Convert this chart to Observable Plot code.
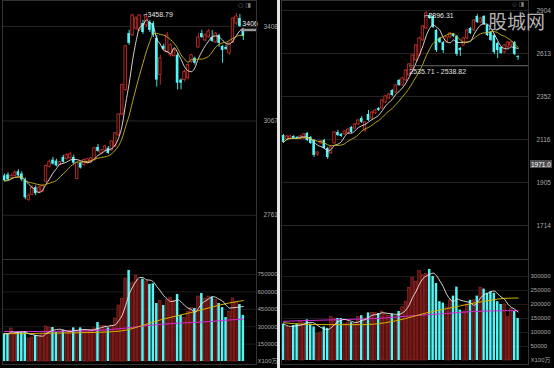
<!DOCTYPE html>
<html><head><meta charset="utf-8">
<script src="https://cdn.jsdelivr.net/npm/d3@7"></script>
<script src="https://cdn.jsdelivr.net/npm/@observablehq/plot@0.6"></script>
<style>
body{margin:0;background:#000;}
#wrap{position:relative;width:554px;height:368px;background:#000;overflow:hidden;font-family:"Liberation Sans","DejaVu Sans","Noto Sans CJK SC",sans-serif;}
.p{position:absolute;}
#divider{position:absolute;left:277px;top:0;width:3px;height:368px;background:#e4e4e4;}
#wm{position:absolute;left:488px;top:11px;font:19px/19px "Noto Sans CJK SC";color:#b4b4b4;}
.icons{position:absolute;font:6px/6px "DejaVu Sans";color:#8a8a8a;}
#tag{position:absolute;left:530px;top:160px;background:#4e4e4e;color:#fff;font:6.5px/7px "Liberation Sans";padding:0.5px 1px;}
</style></head><body>
<div id="wrap">
  <div class="p" id="lp" style="left:0;top:0"></div>
  <div class="p" id="lv" style="left:0;top:259px"></div>
  <div class="p" id="rp" style="left:281px;top:0"></div>
  <div class="p" id="rv" style="left:281px;top:259px"></div>
  <div id="divider"></div>
  <div class="icons" style="left:238px;top:2px">○ ◨</div>
  <div class="icons" style="left:512px;top:1px">◇ ◨</div>
  <div id="tag">1971.0</div>
  <div id="wm">股城网</div>
</div>
<script>
// ---------- LEFT chart data ----------
const leftOpen = [2885,2888,2878,2885,2898,2891,2872,2809,2825,2847, 2834,2834,2866,2914,2936,2933,2920,2945,2939,2942, 2945,2875,2926,2920,2926,2929,2936,2978,2958,2968, 2975,2968,2981,3018,3089,3175,3381,3374,3400,3393, 3419,3412,3423,3419,3363,3228,3333,3311,3300,3297, 3300,3210,3210,3217,3275,3289,3329,3381,3355,3366, 3366,3348,3374,3333,3329,3307,3348,3419,3438,3389];
const leftHigh = [2891,2895,2891,2902,2905,2898,2878,2828,2853,2853, 2853,2856,2920,2936,2945,2939,2933,2952,2958,2962, 2952,2929,2929,2939,2942,2945,2978,2988,2971,2985, 2981,3001,3028,3092,3196,3337,3393,3455,3446,3454, 3431,3458.79,3431,3427,3374,3300,3341,3385,3344,3326, 3307,3214,3246,3271,3304,3293,3381,3393,3381,3396, 3393,3385,3378,3337,3337,3348,3442,3458,3454,3396];
const leftLow = [2866,2866,2875,2882,2882,2866,2809,2803,2822,2822, 2828,2831,2862,2910,2920,2914,2917,2926,2936,2939, 2920,2872,2907,2917,2923,2926,2933,2962,2955,2965, 2955,2965,2978,3015,3085,3170,3337,3370,3393,3389, 3378,3404,3385,3366,3185,3192,3318,3307,3293,3293, 3175,3175,3203,3210,3271,3264,3326,3363,3352,3363, 3348,3344,3329,3271,3318,3300,3344,3412,3404,3355];
const leftClose = [2869,2872,2885,2895,2885,2872,2815,2822,2847,2828, 2847,2853,2917,2929,2923,2917,2929,2929,2952,2955, 2926,2926,2910,2936,2939,2942,2975,2965,2968,2981, 2958,2998,3025,3089,3192,3333,3344,3450,3438,3450, 3385,3442,3393,3374,3210,3289,3322,3374,3337,3318, 3199,3199,3239,3264,3300,3271,3366,3366,3374,3389, 3352,3381,3344,3318,3322,3344,3438,3446,3408,3370];
const leftVolume = [239000,239000,284000,239000,259000,250000,250000,198000,207000,224000, 224000,238000,302000,290000,293000,250000,259000,267000,250000,267000, 290000,267000,290000,267000,262000,270000,285000,336000,306000,306000, 290000,310000,370000,483000,540000,715000,785000,680000,740000,700000, 710000,690000,665000,670000,500000,520000,483000,530000,550000,520000, 578000,397000,377000,430000,460000,457000,560000,586000,540000,560000, 552000,530000,500000,465000,379000,430000,543000,510000,491000,397000];
const leftPriceTicks = [2761, 3067, 3408];
const leftVolTicks = [0, 150000, 300000, 450000, 600000, 750000];
const leftVolMaIdx = [0,5,10,15,20,25,30,35,40,45,50,55,60,65,69];
const leftVolMaMid = [240000,240000,243000,245000,247000,250000,255000,270000,312000,358000,395000,430000,470000,505000,525000];
const leftVolMaLong = [258000,258000,259000,260000,262000,265000,274000,288000,305000,320000,330000,337000,346000,358000,365000];
const leftPeak = [{i: 41, v: 3458.79}];
const leftLast = [{i: 69, v: 3406}];

// ---------- RIGHT chart data ----------
const rightOpen = [2137,2117,2122,2132,2127,2122,2122,2148,2127,2111, 2040,2096,2111,2070,2045,2096,2153,2143,2143,2148, 2180,2174,2196,2228,2164,2250,2228,2256,2283,2283, 2317,2340,2386,2375,2446,2416,2446,2476,2519,2569, 2600,2698,2778,2868,2861,2765,2711,2684,2684,2718, 2738,2724,2645,2665,2711,2778,2765,2861,2819,2861, 2799,2751,2731,2678,2652,2619,2652,2665,2684,2594];
const rightHigh = [2143,2137,2137,2137,2132,2137,2148,2153,2132,2117, 2055,2111,2117,2076,2081,2158,2164,2148,2164,2174, 2185,2201,2222,2239,2212,2272,2267,2278,2289,2334, 2357,2369,2392,2422,2452,2464,2512,2550,2607,2671, 2718,2799,2896.31,2882,2868,2771,2718,2691,2724,2751, 2744,2731,2652,2718,2771,2785,2840,2875,2854,2868, 2805,2758,2738,2684,2658,2671,2691,2691,2691,2600];
const rightLow = [2096,2111,2117,2117,2117,2117,2117,2106,2091,2025, 2030,2091,2065,2015,2040,2091,2132,2127,2137,2143, 2148,2169,2191,2201,2153,2212,2222,2250,2267,2278, 2312,2334,2352,2369,2410,2410,2440,2470,2512,2562, 2594,2691,2771,2840,2778,2619,2678,2613,2678,2711, 2718,2594,2594,2658,2704,2738,2758,2812,2812,2799, 2724,2691,2607,2581,2607,2613,2645,2658,2600,2569];
const rightClose = [2101,2132,2132,2122,2122,2132,2143,2111,2096,2035, 2050,2106,2070,2025,2076,2153,2137,2132,2158,2169, 2153,2196,2217,2207,2207,2217,2261,2272,2272,2329, 2352,2363,2357,2416,2416,2458,2506,2544,2600,2665, 2711,2792,2882,2847,2785,2632,2684,2632,2718,2744, 2724,2607,2632,2711,2765,2744,2833,2819,2847,2805, 2731,2698,2619,2632,2613,2665,2684,2684,2607,2588];
const rightVolume = [130000,120000,115000,125000,130000,140000,135000,145000,130000,120000, 95000,100000,120000,115000,155000,150000,150000,150000,130000,135000, 135000,130000,155000,160000,150000,170000,170000,170000,168000,175000, 165000,160000,165000,160000,175000,190000,210000,260000,295000,280000, 320000,305000,310000,325000,300000,275000,210000,205000,190000,215000, 230000,262000,180000,175000,200000,215000,215000,230000,260000,255000, 240000,245000,240000,210000,200000,200000,155000,185000,175000,150000];
const rightPriceTicks = [1714, 1905, 2116, 2352, 2613, 2904];
const rightVolTicks = [0, 50000, 100000, 150000, 200000, 250000, 300000];
const rightVolMaIdx = [0,5,14,23,30,36,42,48,52,56,61,65,69];
const rightVolMaMid = [135000,130000,128000,128000,135000,150000,170000,185000,195000,205000,215000,222000,223000];
const rightVolMaLong = [140000,142000,145000,148000,152000,158000,163000,168000,172000,175000,177000,178000,178000];
const rightPeak = [{i: 42, v: 2896.31}];
const rightRange = [{i: 37, lo: 2535.71, hi: 2538.82}];

// ---------- drawing ----------
const RED = "#c8322c", CYAN = "#55f4f4";
const VOL_RED_FILL = "#5a1010", VOL_RED_STROKE = "#a42c28";
const FONT = "Liberation Sans, DejaVu Sans, Noto Sans CJK SC, sans-serif";

function table(o, h, l, c, v) {
  return d3.range(o.length).map(i => ({i, o: o[i], h: h[i], l: l[i], c: c[i], v: v[i], up: c[i] >= o[i]}));
}

function priceChart({data, width, marginLeft, marginRight, xDomain, yDomain, ticks, tickPadding, extra}) {
  return Plot.plot({
    width, height: 259, marginTop: 0, marginBottom: 0, marginLeft, marginRight,
    x: {domain: xDomain, axis: null},
    y: {type: "log", domain: yDomain, ticks, tickFormat: d => String(d), axis: "right", tickSize: 0, tickPadding, label: null},
    style: {background: "transparent", color: "#a8a8a8", fontSize: "6.5px", fontFamily: FONT, overflow: "visible"},
    marks: [
      Plot.ruleY(ticks, {stroke: "#262626"}),
      Plot.ruleX(data, {filter: d => d.up, x: "i", y1: "l", y2: "h", stroke: RED, strokeWidth: 0.9}),
      Plot.ruleX(data, {filter: d => !d.up, x: "i", y1: "l", y2: "h", stroke: CYAN, strokeWidth: 0.9}),
      Plot.rect(data, {filter: d => d.up, x1: d => d.i - 0.36, x2: d => d.i + 0.36, y1: "o", y2: "c", fill: "#120000", stroke: RED, strokeWidth: 0.8}),
      Plot.rect(data, {filter: d => !d.up, x1: d => d.i - 0.38, x2: d => d.i + 0.38, y1: "o", y2: "c", fill: CYAN}),
      Plot.lineY(data, Plot.windowY({k: 5, anchor: "end"}, {x: "i", y: "c", stroke: "#ece4e4", strokeWidth: 0.9, curve: "monotone-x"})),
      Plot.lineY(data, Plot.windowY({k: 10, anchor: "end"}, {x: "i", y: "c", stroke: "#c9b41c", strokeWidth: 0.9, curve: "monotone-x"})),
      ...extra,
      Plot.frame({stroke: "#333"})
    ]
  });
}

function volumeChart({data, width, marginLeft, marginRight, xDomain, yDomain, ticks, tickPadding, maIdx, maMid, maLong}) {
  return Plot.plot({
    width, height: 105, marginTop: 0, marginBottom: 0, marginLeft, marginRight,
    x: {domain: xDomain, axis: null},
    y: {domain: yDomain, ticks, tickFormat: d => d === 0 ? "X100万" : String(d), axis: "right", tickSize: 0, tickPadding, label: null},
    style: {background: "transparent", color: "#a8a8a8", fontSize: "6px", fontFamily: FONT, overflow: "visible"},
    marks: [
      Plot.ruleY(ticks.filter(t => t > 0), {stroke: "#1c1c1c"}),
      Plot.rect(data, {filter: d => d.up, x1: d => d.i - 0.38, x2: d => d.i + 0.38, y1: 0, y2: "v", fill: VOL_RED_FILL, stroke: VOL_RED_STROKE, strokeWidth: 0.6}),
      Plot.rect(data, {filter: d => !d.up, x1: d => d.i - 0.36, x2: d => d.i + 0.36, y1: 0, y2: "v", fill: CYAN}),
      Plot.line(maIdx, {x: d => d, y: (d, i) => maLong[i], stroke: "#d42ad4", strokeWidth: 1, curve: "monotone-x"}),
      Plot.line(maIdx, {x: d => d, y: (d, i) => maMid[i], stroke: "#d6b400", strokeWidth: 1, curve: "monotone-x"}),
      Plot.lineY(data, Plot.windowY({k: 5, anchor: "end"}, {x: "i", y: "v", stroke: "#ece4e4", strokeWidth: 0.9, curve: "monotone-x"})),
      Plot.frame({stroke: "#333"})
    ]
  });
}

const L = table(leftOpen, leftHigh, leftLow, leftClose, leftVolume);
const R = table(rightOpen, rightHigh, rightLow, rightClose, rightVolume);
const LX = [-0.58, 72.8];
const RX = [-0.59, 72.06];

document.getElementById("lp").append(priceChart({
  data: L, width: 277, marginLeft: 2, marginRight: 21, xDomain: LX, yDomain: [2628, 3508],
  ticks: leftPriceTicks, tickPadding: 7,
  extra: [
    Plot.text(leftPeak, {x: "i", y: "v", text: d => "⌐" + d.v.toFixed(2), textAnchor: "start", dx: -3, dy: 2, fill: "#e6e6e6", fontSize: 7}),
    Plot.ruleY(leftLast, {y: "v", x1: d => d.i - 0.6, x2: LX[1], dy: 3, stroke: "#9a9a9a", strokeWidth: 2.5}),
    Plot.text(leftLast, {x: "i", y: "v", text: d => String(d.v), textAnchor: "start", dx: -1, dy: -3, fill: "#f0f0f0", fontSize: 7})
  ]
}));
document.getElementById("lv").append(volumeChart({
  data: L, width: 277, marginLeft: 2, marginRight: 21, xDomain: LX, yDomain: [-25862, 879310],
  ticks: leftVolTicks, tickPadding: 1, maIdx: leftVolMaIdx, maMid: leftVolMaMid, maLong: leftVolMaLong
}));
document.getElementById("rp").append(priceChart({
  data: R, width: 273, marginLeft: 0, marginRight: 26, xDomain: RX, yDomain: [1577, 2975.5],
  ticks: rightPriceTicks, tickPadding: 8,
  extra: [
    Plot.ruleY(rightRange, {y: "lo", x1: "i", x2: RX[1], stroke: "#6a6a6a", strokeWidth: 1}),
    Plot.text(rightRange, {x: "i", y: "lo", text: d => d.lo.toFixed(2) + " - " + d.hi.toFixed(2), textAnchor: "start", dy: 6, fill: "#e0e0e0", fontSize: 7}),
    Plot.text(rightPeak, {x: "i", y: "v", text: d => "⌐" + d.v.toFixed(2), textAnchor: "start", dx: -2, dy: 4, fill: "#e6e6e6", fontSize: 7})
  ]
}));
document.getElementById("rv").append(volumeChart({
  data: R, width: 273, marginLeft: 0, marginRight: 26, xDomain: RX, yDomain: [-14286, 360714],
  ticks: rightVolTicks, tickPadding: 2, maIdx: rightVolMaIdx, maMid: rightVolMaMid, maLong: rightVolMaLong
}));
</script>
</body></html>
